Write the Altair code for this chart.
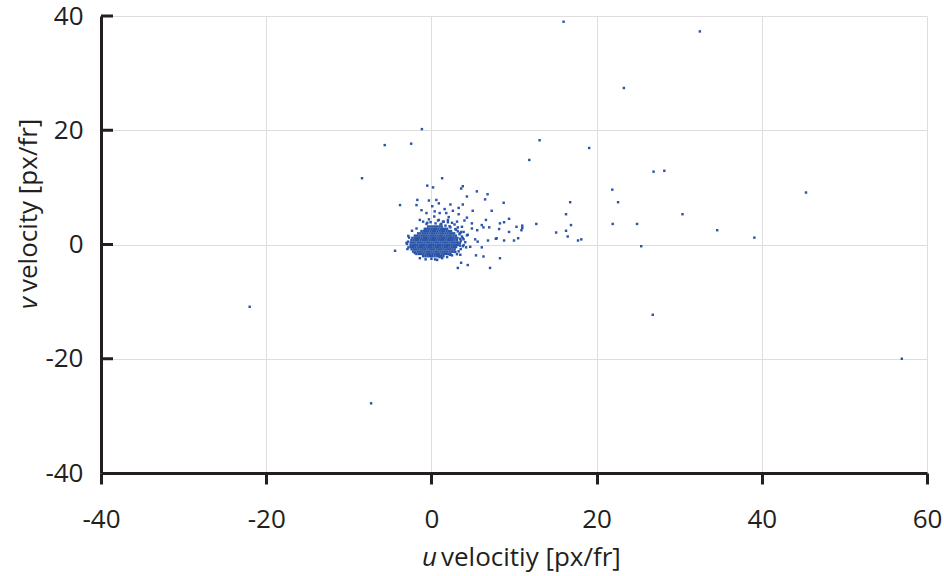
import altair as alt
import pandas as pd

# ---- data ----
# dense core of the cloud: rows of u values at a given v
core_v = [-2.05, -1.65, -1.25, -0.85, -0.45, -0.05, 0.35, 0.75, 1.15, 1.55, 1.95, 2.35, 2.75, 3.15]
core_u = [
    [-1.0, -0.72, -0.45, -0.18, 0.1, 0.38, 0.66, 0.93, 1.2, 1.45],
    [-1.8, -1.52, -1.25, -0.97, -0.7, -0.42, -0.15, 0.13, 0.4, 0.68, 0.95, 1.23, 1.5, 1.78, 2.02, 2.3],
    [-2.2, -1.93, -1.65, -1.38, -1.1, -0.83, -0.55, -0.28, 0.0, 0.27, 0.55, 0.82, 1.1, 1.37, 1.65, 1.92, 2.2, 2.47, 2.7],
    [-2.4, -2.12, -1.85, -1.57, -1.3, -1.02, -0.75, -0.47, -0.2, 0.08, 0.35, 0.63, 0.9, 1.18, 1.45, 1.73, 2.0, 2.28, 2.55, 2.82],
    [-2.5, -2.22, -1.95, -1.67, -1.4, -1.12, -0.85, -0.57, -0.3, -0.02, 0.25, 0.53, 0.8, 1.08, 1.35, 1.63, 1.9, 2.18, 2.45, 2.72, 3.0],
    [-2.52, -2.25, -1.97, -1.7, -1.42, -1.15, -0.87, -0.6, -0.32, -0.05, 0.23, 0.5, 0.78, 1.05, 1.33, 1.6, 1.88, 2.15, 2.43, 2.7, 2.98, 3.2],
    [-2.48, -2.2, -1.93, -1.65, -1.38, -1.1, -0.83, -0.55, -0.28, 0.0, 0.27, 0.55, 0.82, 1.1, 1.37, 1.65, 1.92, 2.2, 2.47, 2.75, 3.02, 3.25],
    [-2.42, -2.15, -1.87, -1.6, -1.32, -1.05, -0.77, -0.5, -0.22, 0.05, 0.33, 0.6, 0.88, 1.15, 1.43, 1.7, 1.98, 2.25, 2.53, 2.8, 3.1],
    [-2.3, -2.02, -1.75, -1.47, -1.2, -0.92, -0.65, -0.37, -0.1, 0.18, 0.45, 0.73, 1.0, 1.28, 1.55, 1.83, 2.1, 2.38, 2.65, 2.92, 3.15],
    [-2.0, -1.72, -1.45, -1.17, -0.9, -0.62, -0.35, -0.07, 0.2, 0.48, 0.75, 1.03, 1.3, 1.58, 1.85, 2.13, 2.4, 2.68, 2.95],
    [-1.6, -1.33, -1.05, -0.78, -0.5, -0.23, 0.05, 0.32, 0.6, 0.87, 1.15, 1.42, 1.7, 1.97, 2.25, 2.5, 2.75],
    [-1.2, -0.92, -0.65, -0.37, -0.1, 0.18, 0.45, 0.73, 1.0, 1.28, 1.55, 1.83, 2.1, 2.38],
    [-0.8, -0.52, -0.25, 0.03, 0.3, 0.58, 0.85, 1.13, 1.4, 1.62, 1.9],
    [-0.4, -0.12, 0.15, 0.43, 0.7, 0.98, 1.25],
]

# scattered points around the core
fringe_u = [1.3, -0.5, 0.2, 3.8, 3.6, 5.5, 6.8, 6.5, 4.3, 8.75, -3.8, -1.7, -1.8, -0.3, 0.1, 0.6, 0.9,
            2.3, 3.3, 3.8, 5.0, 7.3, 4.3, 4.9, 6.6, 8.2, 8.3, 8.8, 9.4, 9.4, 10.3, 10.9, 11.0, 11.0,
            12.7, 10.5, 10.0, 8.8, 7.8, 7.9, 6.85, 5.3, 5.6, 6.1, 5.4, 6.3, 8.3, 7.1, 4.4, 3.2, 3.6,
            4.2, 4.7, 3.1, 3.5, -4.4, -2.35, 1.8, 2.6, -1.4, -1.0, 0.35, 1.0, 2.0, 3.1, 3.7, 3.9,
            3.5, 4.4, 3.8, 4.9, 3.9, 2.9, 2.25, 1.0, 0.45, -2.0, 6.1, 6.3, 7.0, 5.55,
            2.8, 3.2, 2.5, 1.5, 2.2, 3.0, 1.2, 0.8, -0.5, -1.8, -2.8, -3.0, -2.9, 2.1, 3.3, 4.0,
            1.6, -0.6, -1.2, 0.4,
            3.45, 3.55, 3.5, 3.7, 3.4, 3.6, 3.9, 3.8, 4.1, 4.3, 3.55, 3.3, -2.78, -2.82, -2.7, -2.95,
            -0.6, -0.1, 0.5, 1.1, 1.7, 2.3, 2.9, 0.9, 1.4, 2.0, -0.3, -1.4, -0.7, 0.0, 0.7, 1.3,
            1.9, 2.5, 3.2, 3.45]
fringe_v = [11.6, 10.3, 10.0, 10.2, 9.8, 9.3, 8.8, 7.9, 8.4, 7.3, 6.9, 7.8, 6.9, 7.7, 6.7, 7.8, 7.2,
            7.0, 6.4, 7.0, 5.9, 5.9, 4.7, 3.7, 4.3, 2.7, 3.7, 3.9, 4.5, 2.2, 3.1, 2.5, 3.3, 2.9,
            3.6, 1.1, 0.7, 0.7, 1.0, 1.1, 0.7, 0.9, 0.5, -0.5, -1.9, -2.1, -2.4, -4.1, -3.6, -4.1, -3.2,
            -0.5, -0.4, -1.7, -1.8, -1.1, 2.4, 5.5, 5.9, 4.3, 4.0, 4.9, 5.5, 4.3, 4.0, 3.1, 2.2,
            2.0, 1.7, 1.1, 2.8, -0.1, -1.3, -1.8, -2.2, -2.6, -1.5, 3.4, 3.0, 3.0, 2.5,
            3.5, 3.0, 3.8, 4.0, 3.2, 2.6, 3.6, 4.2, 3.8, 2.8, 1.5, 0.3, -0.8, 4.8, 5.3, 4.2,
            6.2, 5.5, 6.0, 5.8,
            0.2, 0.6, 1.0, 1.4, 1.8, 2.2, 0.9, -0.3, 0.4, 1.6, -0.8, -1.2, -0.5, 0.5, 1.2, 0.1,
            3.6, 3.9, 3.7, 3.5, 3.3, 3.0, 2.7, 4.3, 4.0, 3.9, 4.4, -2.4, -2.6, -2.5, -2.7, -2.4,
            -2.2, -1.9, 2.3, -0.2]

# far outliers
far_u = [16.0, 32.5, 23.3, -1.15, -5.65, -2.45, 13.1, 19.1, 11.85, -8.4, 26.9, 28.2, 21.9, 45.35,
         22.6, 16.8, 16.3, 16.9, 15.1, 16.3, 16.5, 17.75, 18.15, 21.95, 24.9, 25.4, 30.4, 34.6,
         39.1, 26.8, -22.0, -7.3, 56.95]
far_v = [39.0, 37.3, 27.4, 20.2, 17.4, 17.65, 18.25, 16.9, 14.8, 11.6, 12.75, 12.9, 9.6, 9.1,
         7.4, 7.4, 5.3, 3.4, 2.1, 2.4, 1.4, 0.7, 0.9, 3.6, 3.6, -0.3, 5.3, 2.5,
         1.2, -12.3, -10.9, -27.8, -20.0]

x_ticks = [-40, -20, 0, 20, 40, 60]
y_ticks = [-40, -20, 0, 20, 40]
y_inner_ticks = [40, 20, 0, -20]

# ---- build table ----
us, vs = [], []
for v, row in zip(core_v, core_u):
    for u in row:
        us.append(u)
        vs.append(v)
us += fringe_u + far_u
vs += fringe_v + far_v
df = pd.DataFrame({"u": us, "v": vs})

INK = "#231f20"
FONT = "Open Sans"
PT = "#2b55a8"

xscale = alt.Scale(domain=[-40, 60], nice=False, zero=False)
yscale = alt.Scale(domain=[-40, 40], nice=False, zero=False)

points = alt.Chart(df).mark_square(size=6, color=PT, opacity=1).encode(
    x=alt.X("u:Q", scale=xscale,
            axis=alt.Axis(values=x_ticks, title=None, domain=True, domainColor=INK, domainWidth=3,
                          ticks=True, tickSize=11, tickWidth=3, tickColor=INK,
                          grid=True, gridColor="#dedede", gridWidth=1,
                          labelFont=FONT, labelFontSize=26, labelColor=INK, labelPadding=22,
                          labelExpr="'' + datum.value", labelFlush=False)),
    y=alt.Y("v:Q", scale=yscale,
            axis=alt.Axis(values=y_ticks, title=None, domain=True, domainColor=INK, domainWidth=3,
                          ticks=False, grid=True, gridColor="#dedede", gridWidth=1,
                          labelFont=FONT, labelFontSize=26, labelColor=INK, labelPadding=18,
                          labelExpr="'' + datum.value", labelFlush=False)),
)

tick_df = pd.DataFrame({"t": y_inner_ticks})
inner_ticks = alt.Chart(tick_df).mark_rule(color=INK, strokeWidth=3).encode(
    y=alt.Y("t:Q", scale=yscale),
    x=alt.value(0),
    x2=alt.value(12),
)

def label(txt, x, y, italic=False, angle=0):
    d = pd.DataFrame({"s": [txt]})
    kw = dict(font=FONT, fontSize=26, color=INK, align="left", baseline="alphabetic")
    if italic:
        kw["fontStyle"] = "italic"
    if angle:
        kw["angle"] = angle
    return alt.Chart(d).mark_text(**kw).encode(text="s:N", x=alt.value(x), y=alt.value(y))

xt1 = label("u", 321, 550, italic=True)
xt2 = label("velocitiy [px/fr]", 340, 550)
yt1 = label("v", -64, 293, italic=True, angle=270)
yt2 = label("velocity [px/fr]", -64, 276, angle=270)

chart = alt.layer(points, inner_ticks, xt1, xt2, yt1, yt2).properties(
    width=826, height=457,
    padding={"left": 101, "top": 16, "right": 17, "bottom": 103},
    autosize=alt.AutoSizeParams(type="none"),
).configure_view(strokeWidth=0)

chart.save("out.html", embed_options={"renderer": "svg", "actions": False})
